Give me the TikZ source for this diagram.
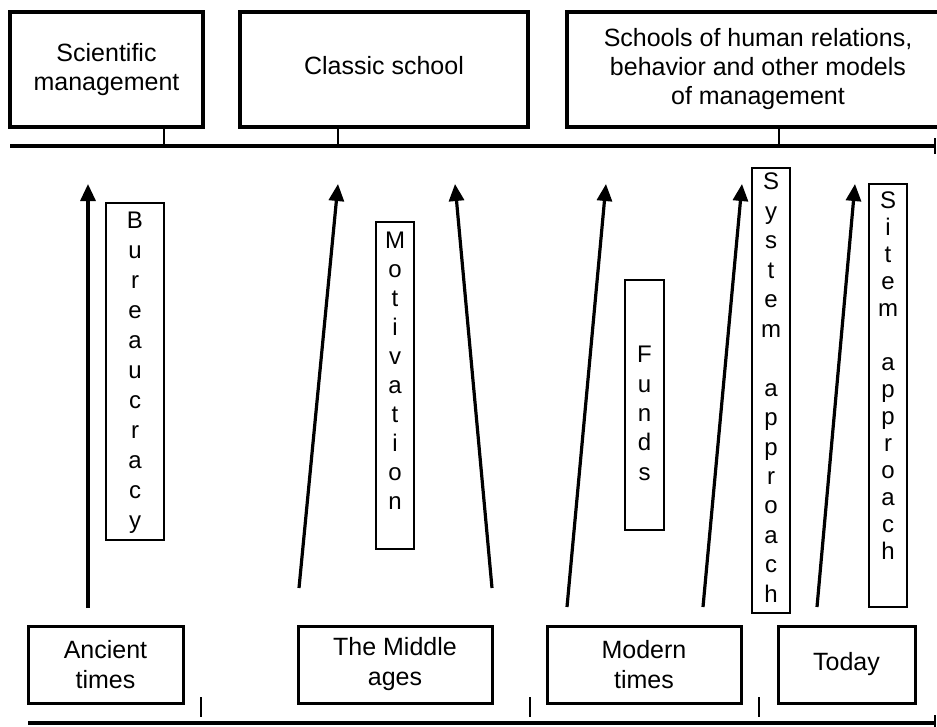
\documentclass[tikz,border=0pt]{standalone}
\usepackage{fontspec}
\setmainfont{Liberation Sans}
\usetikzlibrary{arrows.meta}

% a word written downwards, one letter per line
\newcommand\letterstack[2]{\parbox[t]{30pt}{\centering\fontsize{24pt}{#1}\selectfont #2}}

\begin{document}
\begin{tikzpicture}[x=1pt,y=-1pt,
  schoolbox/.style={draw, line width=3.3pt, inner sep=0pt, align=center,
    font=\fontsize{25pt}{29pt}\selectfont},
  erabox/.style={draw, line width=3pt, inner sep=0pt, align=center,
    font=\fontsize{25pt}{30pt}\selectfont},
  wordbox/.style={draw, line width=1.5pt, inner sep=0pt},
  letters/.style={inner sep=0pt, anchor=north},
  timeline/.style={line width=3.3pt, -{Bar[width=16pt,line width=2pt]}},
  tickline/.style={line width=1.5pt},
  influence/.style={line width=3.2pt, -{Triangle[length=17pt,width=15pt]}}]

\useasboundingbox (0,0) rectangle (937,726);

% ---- schools of management (upper timeline) ----
\node[schoolbox, minimum width=193pt, minimum height=115pt] (sci) at (106.5,69.5)
  {Scientific\\management};
\node[schoolbox, minimum width=288pt, minimum height=115pt] (cls) at (384,69.5)
  {\raisebox{9pt}{Classic school}};
\node[schoolbox, minimum width=382pt, minimum height=115pt] (hum) at (758,69.5)
  {Schools of human relations,\\behavior and other models\\of management};

\coordinate (topL) at (10,146);
\coordinate (topR) at (936,146);
\draw[timeline] (topL) -- (topR);

\coordinate (tsci) at (164,146);
\coordinate (tcls) at (338,146);
\coordinate (thum) at (779,146);
\draw[tickline] (sci.south -| tsci) -- (tsci);
\draw[tickline] (cls.south -| tcls) -- (tcls);
\draw[tickline] (hum.south -| thum) -- (thum);

% ---- historical periods (lower timeline) ----
\node[erabox, minimum width=155pt, minimum height=77pt] (anc) at (105.5,664.5)
  {Ancient\\times};
\node[erabox, minimum width=194pt, minimum height=77pt] (mid) at (395,664.5)
  {The Middle\\ages};
\node[erabox, minimum width=194pt, minimum height=77pt] (mod) at (644,664.5)
  {Modern\\times};
\node[erabox, minimum width=137pt, minimum height=77pt] (tod) at (846.5,664.5)
  {Today};

\coordinate (botL) at (28,723);
\coordinate (botR) at (936,723);
\draw[timeline] (botL) -- (botR);

\coordinate (b1a) at (201,697); \coordinate (b1b) at (201,717);
\coordinate (b2a) at (530,697); \coordinate (b2b) at (530,717);
\coordinate (b3a) at (759,697); \coordinate (b3b) at (759,717);
\draw[tickline] (b1a) -- (b1b);
\draw[tickline] (b2a) -- (b2b);
\draw[tickline] (b3a) -- (b3b);

% ---- arrows from the periods up to the schools ----
\coordinate (a1s) at (88,608);  \coordinate (a1e) at (88,184);
\coordinate (a2s) at (299,588); \coordinate (a2e) at (338,184);
\coordinate (a3s) at (492,588); \coordinate (a3e) at (455,184);
\coordinate (a4s) at (567,607); \coordinate (a4e) at (606,184);
\coordinate (a5s) at (703,607); \coordinate (a5e) at (742,184);
\coordinate (a6s) at (817,607); \coordinate (a6e) at (855,184);
\draw[influence] (a1s) -- (a1e);
\draw[influence] (a2s) -- (a2e);
\draw[influence] (a3s) -- (a3e);
\draw[influence] (a4s) -- (a4e);
\draw[influence] (a5s) -- (a5e);
\draw[influence] (a6s) -- (a6e);

% ---- vertical labels ----
\node[wordbox, minimum width=58pt, minimum height=337pt] (bur) at (135,371.5) {};
\node[letters] (burw) at (135,212)
  {\letterstack{30pt}{B\\u\\r\\e\\a\\u\\c\\r\\a\\c\\y}};

\node[wordbox, minimum width=38pt, minimum height=327pt] (mot) at (395,385.5) {};
\node[letters] (motw) at (395,232)
  {\letterstack{29pt}{M\\o\\t\\i\\v\\a\\t\\i\\o\\n}};

\node[wordbox, minimum width=39pt, minimum height=250pt] (fun) at (644.5,405) {};
\node[letters] (funw) at (644.5,346)
  {\letterstack{29.4pt}{F\\u\\n\\d\\s}};

\node[wordbox, minimum width=38pt, minimum height=445pt] (sys) at (771,390.5) {};
\node[letters] (sysw) at (771,173)
  {\letterstack{29.45pt}{S\\y\\s\\t\\e\\m\\\mbox{}\\a\\p\\p\\r\\o\\a\\c\\h}};

\node[wordbox, minimum width=38pt, minimum height=423pt] (sit) at (888,395.5) {};
\node[letters] (sitw) at (888,192)
  {\letterstack{27pt}{S\\i\\t\\e\\m\\\mbox{}\\a\\p\\p\\r\\o\\a\\c\\h}};

\end{tikzpicture}
\end{document}
